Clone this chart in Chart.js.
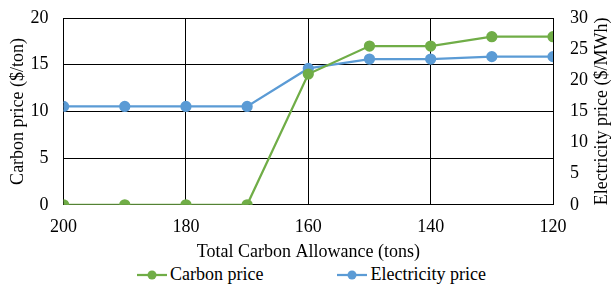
<!DOCTYPE html>
<html>
<head>
<meta charset="utf-8">
<script src="https://cdn.jsdelivr.net/npm/chart.js@4"></script>
<style>
  body { margin: 0; background: #fff; }
  #wrap { position: relative; width: 613px; height: 285px; }
  #legend { position: absolute; left: 137px; top: 263px; height: 22px; line-height: 22px;
            font-family: 'Liberation Serif', 'Times New Roman', serif; font-size: 18px; color: #000;
            white-space: nowrap; }
  #legend span.item { display: inline-block; }
  #legend span.item + span.item { margin-left: 74px; }
  #legend canvas { vertical-align: middle; margin-right: 3px; position: relative; top: -1px; }
</style>
</head>
<body>
<div id="wrap">
  <canvas id="myChart" width="613" height="263"></canvas>
  <div id="legend"></div>
</div>
<script>
var allowance = [200, 190, 180, 170, 160, 150, 140, 130, 120];
var carbonPrice = [0, 0, 0, 0, 14, 17, 17, 18, 18];
var electricityPrice = [15.8, 15.8, 15.8, 15.8, 21.9, 23.4, 23.4, 23.8, 23.8];
var xTicks = [200, 180, 160, 140, 120];

var green = "#70AD47";
var blue = "#5B9BD5";
var font = "'Liberation Serif', 'Times New Roman', serif";
var fontSize = 18;
var rightTitle = "Electricity price ($/MWh)";

function toPoints(vals) {
  return allowance.map(function (a, i) { return { x: a, y: vals[i] }; });
}

// chart.js adds the tick padding to the top overhang, which pushes the plot down
function trimPadding(scale) {
  scale.paddingTop = 10;
  scale.paddingBottom = 10;
}

// right axis title reads bottom-to-top like the left one, so draw it by hand
var rightTitlePlugin = {
  id: 'rightTitle',
  afterDraw: function (chart) {
    var c = chart.ctx;
    var area = chart.chartArea;
    c.save();
    c.translate(602, (area.top + area.bottom) / 2);
    c.rotate(-Math.PI / 2);
    c.font = fontSize + "px " + font;
    c.fillStyle = "#000";
    c.textAlign = "center";
    c.textBaseline = "middle";
    c.fillText(rightTitle, 0, 0);
    c.restore();
  }
};

var ctx = document.getElementById("myChart").getContext('2d');
var chart = new Chart(ctx, {
  type: 'line',
  data: {
    datasets: [{
      label: "Carbon price",
      data: toPoints(carbonPrice),
      borderColor: green,
      backgroundColor: green,
      borderWidth: 2.25,
      pointRadius: 4.5,
      pointHoverRadius: 4.5,
      yAxisID: 'y'
    }, {
      label: "Electricity price",
      data: toPoints(electricityPrice),
      borderColor: blue,
      backgroundColor: blue,
      borderWidth: 2.25,
      pointRadius: 4.5,
      pointHoverRadius: 4.5,
      yAxisID: 'y2'
    }]
  },
  plugins: [rightTitlePlugin],
  options: {
    responsive: false,
    animation: false,
    layout: { padding: { left: 4, right: 8, top: 18, bottom: 0 } },
    plugins: {
      tooltip: { enabled: false },
      legend: { display: false }
    },
    scales: {
      x: {
        type: 'linear',
        reverse: true,
        min: 120,
        max: 200,
        afterBuildTicks: function (axis) {
          axis.ticks = xTicks.map(function (v) { return { value: v }; });
        },
        ticks: { color: '#000', font: { family: font, size: fontSize }, padding: 12, maxRotation: 0 },
        grid: { color: '#000', lineWidth: 1, drawTicks: false },
        border: { color: '#000' },
        title: { display: true, text: 'Total Carbon Allowance (tons)', color: '#000', font: { family: font, size: fontSize }, padding: { top: -9, bottom: 0 } }
      },
      y: {
        position: 'left',
        min: 0,
        max: 20,
        afterFit: trimPadding,
        ticks: { stepSize: 5, color: '#000', font: { family: font, size: fontSize }, padding: 15 },
        grid: { color: '#000', lineWidth: 1, drawTicks: false },
        border: { color: '#000' },
        title: { display: true, text: 'Carbon price ($/ton)', color: '#000', font: { family: font, size: fontSize }, padding: { top: 3, bottom: -13 } }
      },
      y2: {
        position: 'right',
        min: 0,
        max: 30,
        afterFit: trimPadding,
        ticks: { stepSize: 5, color: '#000', font: { family: font, size: fontSize }, padding: 17 },
        grid: { drawOnChartArea: false, drawTicks: false },
        border: { color: '#000' }
      }
    }
  }
});

// html legend: line with a dot, then the series name
function legendMarker(color) {
  var c = document.createElement("canvas");
  c.width = 30; c.height = 10;
  var g = c.getContext("2d");
  g.strokeStyle = color; g.lineWidth = 2.25;
  g.beginPath(); g.moveTo(0, 5); g.lineTo(30, 5); g.stroke();
  g.fillStyle = color;
  g.beginPath(); g.arc(15, 5, 4.5, 0, Math.PI * 2); g.fill();
  return c;
}
var myLegendContainer = document.getElementById("legend");
chart.data.datasets.forEach(function (ds) {
  var item = document.createElement("span");
  item.className = "item";
  item.appendChild(legendMarker(ds.borderColor));
  item.appendChild(document.createTextNode(ds.label));
  myLegendContainer.appendChild(item);
});
</script>
</body>
</html>
